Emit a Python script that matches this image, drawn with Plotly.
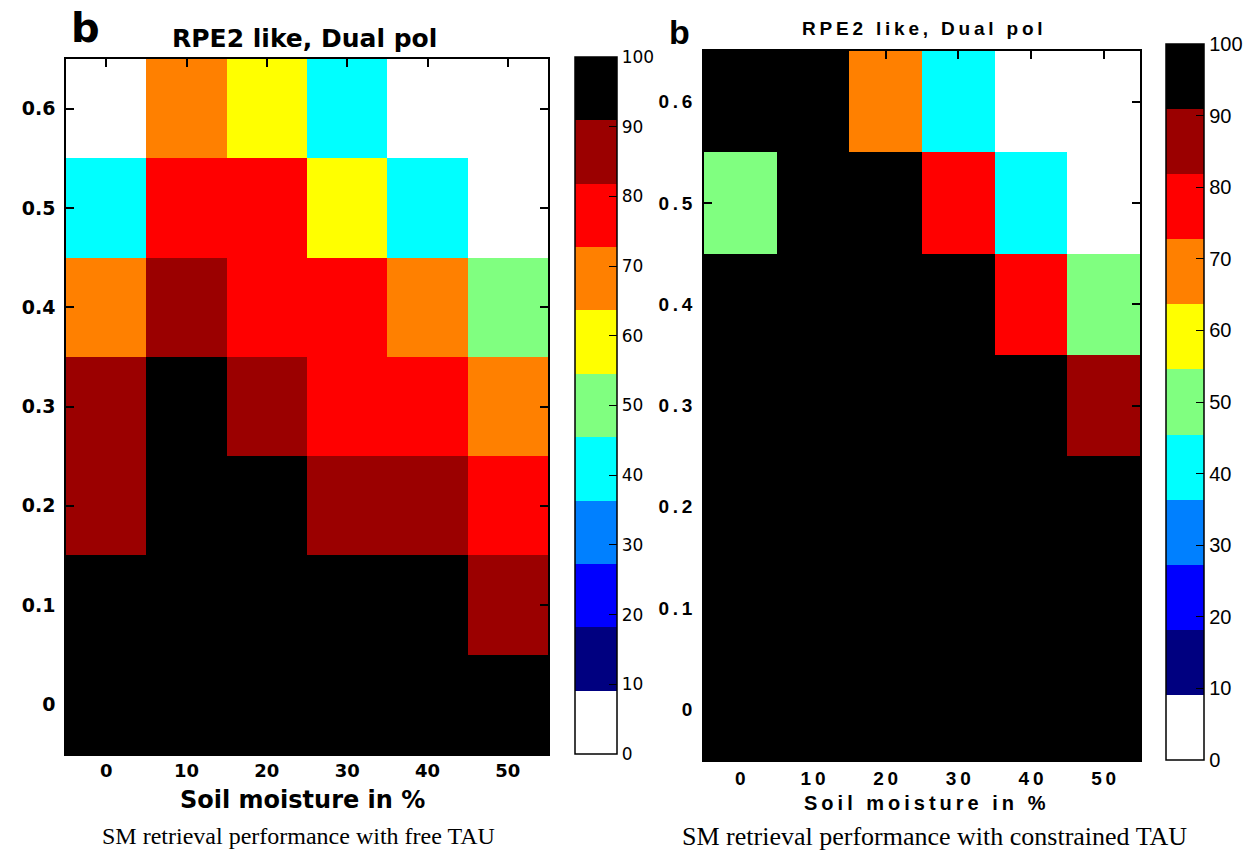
import plotly.graph_objects as go

W, H = 1244, 853

soil_moisture = [0, 10, 20, 30, 40, 50]
tau = [0, 0.1, 0.2, 0.3, 0.4, 0.5, 0.6]

# rows from tau=0 (bottom) to tau=0.6 (top)
perf_free_tau = [
    [100, 100, 100, 100, 100, 100],
    [100, 100, 100, 100, 100, 90],
    [90, 100, 100, 90, 90, 80],
    [90, 100, 90, 80, 80, 70],
    [70, 90, 80, 80, 70, 50],
    [40, 80, 80, 60, 40, 0],
    [0, 70, 60, 40, 0, 0],
]
perf_constrained_tau = [
    [100, 100, 100, 100, 100, 100],
    [100, 100, 100, 100, 100, 100],
    [100, 100, 100, 100, 100, 100],
    [100, 100, 100, 100, 100, 90],
    [100, 100, 100, 100, 80, 50],
    [50, 100, 100, 80, 40, 0],
    [100, 100, 70, 40, 0, 0],
]

cbar_ticks = [0, 10, 20, 30, 40, 50, 60, 70, 80, 90, 100]
x_ticks = [0, 10, 20, 30, 40, 50]
y_ticks = [0, 0.1, 0.2, 0.3, 0.4, 0.5, 0.6]

level_colors = ["#ffffff", "#000080", "#0000ff", "#0080ff", "#00ffff", "#80ff80",
                "#ffff00", "#ff8000", "#ff0000", "#9b0000", "#000000"]
n = len(level_colors)
cscale = []
for i, c in enumerate(level_colors):
    cscale.append([i / n, c])
    cscale.append([(i + 1) / n, c])


def px(x):
    return x / W


def py(y):
    return 1 - y / H


SP = "\u2009"


def spaced(s):
    return SP.join(list(s))


LFONT = "DejaVu Sans"
RFONT = "Liberation Sans, Arial"

fig = go.Figure()

fig.add_trace(go.Heatmap(
    x=soil_moisture, y=tau, z=perf_free_tau, zmin=0, zmax=100,
    colorscale=cscale, xaxis="x", yaxis="y",
    colorbar=dict(
        x=px(575), xanchor="left", y=py(754), yanchor="bottom",
        len=(754 - 57) / H, lenmode="fraction", thickness=42, thicknessmode="pixels",
        xpad=0, ypad=0, outlinewidth=1.5, outlinecolor="black",
        tickvals=cbar_ticks, ticktext=[str(v) for v in cbar_ticks],
        ticks="inside", ticklen=8, tickcolor="black",
        tickfont=dict(family=LFONT, size=17, color="black"),
    ),
))

fig.add_trace(go.Heatmap(
    x=soil_moisture, y=tau, z=perf_constrained_tau, zmin=0, zmax=100,
    colorscale=cscale, xaxis="x2", yaxis="y2",
    colorbar=dict(
        x=px(1166), xanchor="left", y=py(760), yanchor="bottom",
        len=(760 - 44) / H, lenmode="fraction", thickness=38, thicknessmode="pixels",
        xpad=0, ypad=0, outlinewidth=1.5, outlinecolor="black",
        tickvals=cbar_ticks, ticktext=[str(v) for v in cbar_ticks],
        ticks="inside", ticklen=8, tickcolor="black",
        tickfont=dict(family=RFONT, size=20, color="black"),
    ),
))

axis_common = dict(showline=True, linecolor="black", linewidth=1.5, mirror="ticks",
                   ticks="inside", ticklen=8, tickcolor="black", tickwidth=1.5,
                   showgrid=False, zeroline=False)

fig.update_layout(
    height=H, autosize=True, margin=dict(l=0, r=0, t=0, b=0, autoexpand=False),
    paper_bgcolor="white", plot_bgcolor="white", showlegend=False,
    xaxis=dict(domain=[px(66), px(548)], range=[-5, 55], anchor="y",
               tickvals=x_ticks, ticktext=[str(v) for v in x_ticks],
               tickfont=dict(family=LFONT, size=18, color="black", weight="bold"),
               **axis_common),
    yaxis=dict(domain=[py(754), py(59)], range=[-0.05, 0.65], anchor="x",
               tickvals=y_ticks, ticktext=["0"] + [f"{v:.1f}" for v in y_ticks[1:]],
               tickfont=dict(family=LFONT, size=19, color="black", weight="bold"),
               ticklabelstandoff=5, **axis_common),
    xaxis2=dict(domain=[px(704), px(1140)], range=[-5, 55], anchor="y2",
                tickvals=x_ticks, ticktext=[spaced(str(v)) for v in x_ticks],
                tickfont=dict(family=RFONT, size=19, color="black", weight="bold"),
                **axis_common),
    yaxis2=dict(domain=[py(760), py(51)], range=[-0.05, 0.65], anchor="x2",
                tickvals=y_ticks, ticktext=["0"] + [spaced(f"{v:.1f}") for v in y_ticks[1:]],
                tickfont=dict(family=RFONT, size=19, color="black", weight="bold"),
                ticklabelstandoff=6, **axis_common),
)

ann = [
    dict(x=px(85), y=py(28), text="b", font=dict(family=LFONT, size=40, color="black", weight="bold")),
    dict(x=px(304), y=py(38), text="RPE2 like, Dual pol", font=dict(family=LFONT, size=25, color="black", weight="bold")),
    dict(x=px(302), y=py(800), text="Soil moisture in %", font=dict(family=LFONT, size=24, color="black", weight="bold")),
    dict(x=px(298), y=py(836), text="SM retrieval performance with free TAU", font=dict(family="Liberation Serif", size=24, color="black")),
    dict(x=px(679), y=py(32), text="b", font=dict(family=RFONT, size=34, color="black", weight="bold")),
    dict(x=px(922), y=py(28), text=spaced("RPE2 like, Dual pol"), font=dict(family=RFONT, size=19, color="black", weight="bold")),
    dict(x=px(925), y=py(803), text=spaced("Soil moisture in %"), font=dict(family=RFONT, size=20, color="black", weight="bold")),
    dict(x=px(934), y=py(836), text="SM retrieval performance with constrained TAU", font=dict(family="Liberation Serif", size=26, color="black")),
]
for a in ann:
    a.update(xref="paper", yref="paper", showarrow=False, xanchor="center", yanchor="middle")
fig.update_layout(annotations=ann)

fig.write_html(
    "out.html",
    default_width="100%",
    config={"displayModeBar": False, "responsive": True},
    post_script=("document.body.style.margin='0px';"
                 "document.body.style.overflow='hidden';"
                 "document.documentElement.style.overflow='hidden';"
                 "window.dispatchEvent(new Event('resize'));"),
)
